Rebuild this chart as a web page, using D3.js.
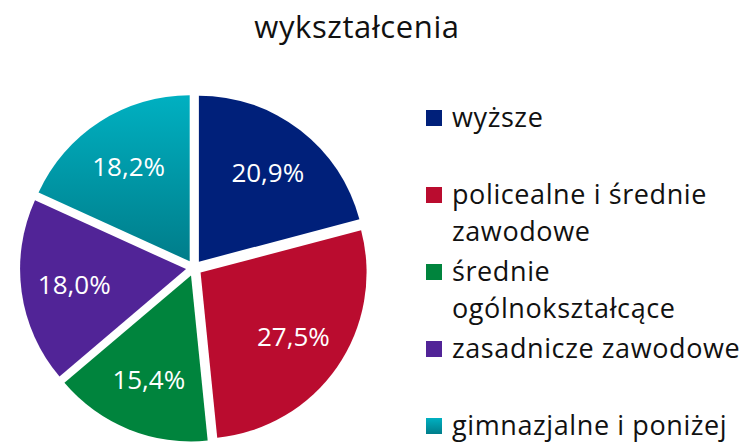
<!DOCTYPE html>
<html>
<head>
<meta charset="utf-8">
<script src="https://cdn.jsdelivr.net/npm/d3@7"></script>
<style>
  body { margin: 0; background: #fff; }
  text { font-family: "Open Sans", sans-serif; }
</style>
</head>
<body>
<script>
var title = 'wykształcenia';
var categories = ['wyższe', 'policealne i średnie zawodowe', 'średnie ogólnokształcące', 'zasadnicze zawodowe', 'gimnazjalne i poniżej'];
var legendLines = [['wyższe'], ['policealne i średnie', 'zawodowe'], ['średnie', 'ogólnokształcące'], ['zasadnicze zawodowe'], ['gimnazjalne i poniżej']];
var values = [20.9, 27.5, 15.4, 18.0, 18.2];
var colors = ['#00207a', '#ba0c2f', '#00843d', '#512497', 'url(#cyanGrad)'];

var width = 746, height = 443;
var cx = 194, cy = 268, radius = 166, explode = 8;

var svg = d3.select('body').append('svg')
  .attr('width', width)
  .attr('height', height);

// gradient for the last slice
var grad = svg.append('defs').append('linearGradient')
  .attr('id', 'cyanGrad')
  .attr('x1', 0).attr('y1', 0).attr('x2', 0).attr('y2', 1);
grad.append('stop').attr('offset', '0%').attr('stop-color', '#00b0c1');
grad.append('stop').attr('offset', '100%').attr('stop-color', '#007d8a');

svg.append('text')
  .attr('x', 357)
  .attr('y', 38)
  .attr('text-anchor', 'middle')
  .attr('font-size', 31)
  .attr('letter-spacing', 0.6)
  .attr('fill', '#111')
  .text(title);

var pie = d3.pie().sort(null).value(function(d) { return d; });
var arc = d3.arc().innerRadius(0).outerRadius(radius);
var labelArc = d3.arc().innerRadius(radius * 0.68).outerRadius(radius * 0.68);

var g = svg.append('g').attr('transform', `translate(${cx}, ${cy})`);

var slices = g.selectAll('.slice')
  .data(pie(values))
  .enter().append('g')
  .attr('class', 'slice')
  .attr('transform', function(d) {
    var a = (d.startAngle + d.endAngle) / 2;
    return `translate(${explode * Math.sin(a)}, ${-explode * Math.cos(a)})`;
  });

slices.append('path')
  .attr('d', arc)
  .attr('fill', function(d, i) { return colors[i]; });

slices.append('text')
  .attr('transform', function(d) { return `translate(${labelArc.centroid(d)})`; })
  .attr('text-anchor', 'middle')
  .attr('dy', '0.36em')
  .attr('font-size', 26)
  .attr('fill', '#fff')
  .text(function(d) { return d.data.toFixed(1).replace('.', ',') + '%'; });

// legend
var legend = svg.append('g').attr('transform', 'translate(426, 110)');
var item = legend.selectAll('.item')
  .data(categories)
  .enter().append('g')
  .attr('class', 'item')
  .attr('transform', function(d, i) { return `translate(0, ${i * 77})`; });

item.append('rect')
  .attr('width', 16)
  .attr('height', 16)
  .attr('fill', function(d, i) { return colors[i]; });

item.append('text')
  .attr('x', 26)
  .attr('y', 17)
  .attr('font-size', 27)
  .attr('letter-spacing', 0.6)
  .attr('fill', '#111')
  .selectAll('tspan')
  .data(function(d, i) { return legendLines[i]; })
  .enter().append('tspan')
  .attr('x', 26)
  .attr('dy', function(d, j) { return j === 0 ? 0 : 37; })
  .text(function(d) { return d; });
</script>
</body>
</html>
